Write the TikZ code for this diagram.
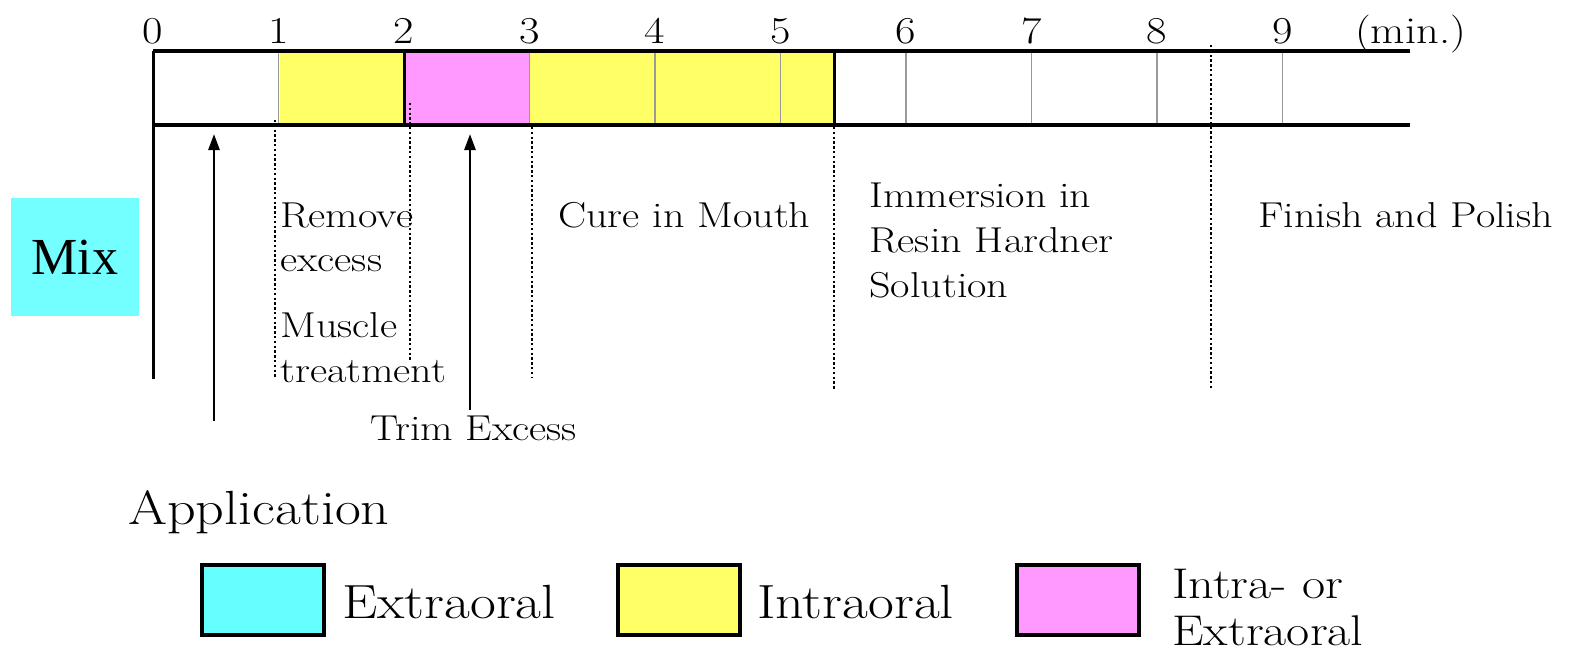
\documentclass[tikz,border=0pt]{standalone}
\usepackage{fontspec}
\usepackage{graphicx}
\newfontfamily\timesfont{Liberation Serif}
\newcommand\wt[1]{\scalebox{1.17}[1]{#1}}
\usetikzlibrary{arrows.meta}
\definecolor{ylw}{HTML}{FFFF66}
\definecolor{pnk}{HTML}{FF99FF}
\definecolor{cyn}{HTML}{66FFFF}
\definecolor{mixcyn}{HTML}{73FFFF}
\tikzset{
  barline/.style={line width=3.5pt, black},
  gridline/.style={line width=1.6pt, gray!80},
  divline/.style={line width=3pt, black},
  dotline/.style={line width=2.6pt, dash pattern=on 2.4pt off 2.4pt},
  upar/.style={line width=2.6pt, -{Triangle[length=16pt,width=11pt]}},
  lab/.style={font=\fontsize{36}{44}\selectfont, anchor=base west, inner sep=0pt},
  num/.style={font=\fontsize{38}{44}\selectfont, anchor=base, inner sep=0pt},
  big/.style={font=\fontsize{48}{58}\selectfont, anchor=base west, inner sep=0pt},
  small/.style={font=\fontsize{43}{52}\selectfont, anchor=base west, inner sep=0pt},
  legbox/.style={draw=black, line width=3.5pt, minimum width=122pt, minimum height=70pt, inner sep=0pt, anchor=north west}
}
\begin{document}
\begin{tikzpicture}[x=1pt,y=-1pt]
\useasboundingbox (0,0) rectangle (1573,653);
% colored segments
\fill[ylw] (280,51) rectangle (404,125);
\fill[pnk] (404,51) rectangle (530,125);
\fill[ylw] (530,51) rectangle (834,125);
% grid lines
\foreach \t in {1,3,4,5,6,7,8,9} {
  \draw[gridline] ({153+125.5*\t},51) -- ({153+125.5*\t},125);
}
% dividers
\draw[divline] (404,51) -- (404,125);
\draw[divline] (834,51) -- (834,125);
% bar outline
\coordinate (tl) at (153,51);
\coordinate (tr) at (1410,51);
\coordinate (bl) at (153,125);
\coordinate (br) at (1410,125);
\coordinate (vb) at (153,379);
\draw[barline] (tl) -- (tr);
\draw[barline] (bl) -- (br);
\draw[barline, line width=3pt] (tl) -- (vb);
% numbers
\foreach \t in {0,...,9} {
  \node[num] (d\t) at ({153+125.5*\t},43) {\wt{\t}};
}
\node[num, anchor=base west] (unit) at (1355,43) {\wt{(min.)}};
% dotted lines
\coordinate (p1a) at (275,120);  \coordinate (p1b) at (275,377);
\coordinate (p2a) at (410,103);  \coordinate (p2b) at (410,362);
\coordinate (p3a) at (532,127);  \coordinate (p3b) at (532,377);
\coordinate (p4a) at (834,127);  \coordinate (p4b) at (834,390);
\coordinate (p5a) at (1211,45);  \coordinate (p5b) at (1211,390);
\draw[dotline] (p1a) -- (p1b);
\draw[dotline] (p2a) -- (p2b);
\draw[dotline] (p3a) -- (p3b);
\draw[dotline] (p4a) -- (p4b);
\draw[dotline] (p5a) -- (p5b);
% arrows
\coordinate (a1s) at (214,421); \coordinate (a1e) at (214,134);
\coordinate (a2s) at (470,410); \coordinate (a2e) at (470,134);
\draw[upar] (a1s) -- (a1e);
\draw[upar] (a2s) -- (a2e);
% Mix box
\node[fill=mixcyn, minimum width=128pt, minimum height=118pt, inner sep=0pt,
      font=\timesfont\fontsize{52}{60}\selectfont] (mix) at (75,257) {Mix};
% labels
\node[lab] (rem1) at (280,227) {\wt{Remove}};
\node[lab] (rem2) at (280,271) {\wt{excess}};
\node[lab] (mus1) at (280,337) {\wt{Muscle}};
\node[lab] (mus2) at (280,382) {\wt{treatment}};
\node[lab] (trim) at (370,440) {\wt{Trim Excess}};
\node[lab] (cure) at (558,227) {\wt{Cure in Mouth}};
\node[lab] (imm1) at (869,207) {\wt{Immersion in}};
\node[lab] (imm2) at (869,252) {\wt{Resin Hardner}};
\node[lab] (imm3) at (869,297) {\wt{Solution}};
\node[lab] (fin) at (1258,227) {\wt{Finish and Polish}};
% legend
\node[big] (app) at (128,524) {\wt{Application}};
\node[legbox, fill=cyn] (lb1) at (200,563) {};
\node[big] (lt1) at (342,618) {\wt{Extraoral}};
\node[legbox, fill=ylw] (lb2) at (616,563) {};
\node[big] (lt2) at (757,618) {\wt{Intraoral}};
\node[legbox, fill=pnk] (lb3) at (1015,563) {};
\node[small] (lt3a) at (1172,598) {\wt{Intra- or}};
\node[small] (lt3b) at (1172,645) {\wt{Extraoral}};
\end{tikzpicture}
\end{document}
